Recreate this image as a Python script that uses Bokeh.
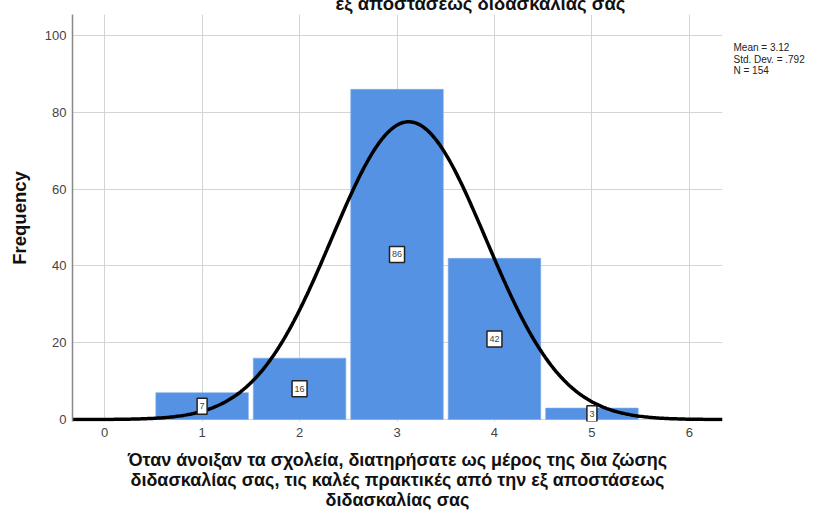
import numpy as np
from bokeh.plotting import figure
from bokeh.models import ColumnDataSource, Range1d, FixedTicker, LinearAxis
from bokeh.core.properties import value
from bokeh.embed import file_html
from bokeh.resources import INLINE

# Data
categories = [1, 2, 3, 4, 5]
frequencies = [7, 16, 86, 42, 3]
mean_val = 3.12
std_val = 0.792
n_total = 154
x_ticks = [0, 1, 2, 3, 4, 5, 6]
y_ticks = [0, 20, 40, 60, 80, 100]
stats_lines = ["Mean = 3.12", "Std. Dev. = .792", "N = 154"]
x_title_lines = ["Όταν άνοιξαν τα σχολεία, διατηρήσατε ως μέρος της δια ζώσης",
                 "διδασκαλίας σας, τις καλές πρακτικές από την εξ αποστάσεως",
                 "διδασκαλίας σας"]
top_title = "εξ αποστάσεως διδασκαλίας σας"

FONT = "Liberation Sans"
SHIFT = 14  # part of the canvas pushed above the window (clipped title)

X0, X1 = -0.33, 6.34
Y0, Y1 = -0.5, 105.5
p = figure(width=822, height=512 + SHIFT, output_backend="svg",
           toolbar_location=None,
           x_range=Range1d(X0, X1), y_range=Range1d(Y0, Y1),
           min_border_left=72, min_border_right=100,
           min_border_top=14 + SHIFT, min_border_bottom=91)
p.styles = {"margin-top": f"-{SHIFT}px"}
p.outline_line_color = None
p.background_fill_color = "white"

# clipped chart title (only its lower part shows, as in the original)
p.title.text = top_title
p.title.text_font = FONT
p.title.text_font_size = "18.5px"
p.title.text_font_style = "bold"
p.title.text_color = "#111111"
p.title.align = "left"
p.title.offset = 263
p.title.standoff = 2

# bars
labs = [str(f) for f in frequencies]
bar_src = ColumnDataSource(dict(x=categories, top=frequencies,
                                mid=[f / 2 for f in frequencies],
                                lab=labs,
                                bw=[5 + 5 * len(s) for s in labs]))
p.vbar(x="x", top="top", bottom=0, width=0.95, source=bar_src,
       fill_color="#5592E4", line_color="#7FAEEC", line_width=0.6)

# normal curve from the reported statistics
xs = np.linspace(X0, X1, 400)
ys = n_total / (std_val * np.sqrt(2 * np.pi)) * np.exp(-0.5 * ((xs - mean_val) / std_val) ** 2)
p.line(xs, ys, line_color="black", line_width=3.5)

# value labels (white boxes with dark border)
p.rect(x="x", y="mid", width="bw", height=16, width_units="screen",
       height_units="screen", source=bar_src, fill_color="white",
       line_color="#222222", line_width=1.5)
p.text(x="x", y="mid", text="lab", source=bar_src, text_align="center",
       text_baseline="middle", text_font=value(FONT), text_font_size="9px",
       text_color="#444444")

# grid
p.xgrid.ticker = FixedTicker(ticks=x_ticks)
p.ygrid.ticker = FixedTicker(ticks=y_ticks)
p.xgrid.grid_line_color = "#D4D4D4"
p.ygrid.grid_line_color = "#D4D4D4"

# axes
p.xaxis.ticker = FixedTicker(ticks=x_ticks)
p.yaxis.ticker = FixedTicker(ticks=y_ticks)
for ax in (p.xaxis[0], p.yaxis[0]):
    ax.major_tick_line_color = None
    ax.minor_tick_line_color = None
    ax.major_label_text_font = FONT
    ax.major_label_text_font_size = "13px"
    ax.major_label_text_color = "#444444"
    ax.axis_label_text_font = FONT
    ax.axis_label_text_font_style = "bold"
    ax.axis_label_text_color = "#111111"
p.xaxis.axis_line_color = None
p.yaxis.axis_line_color = "#888888"
p.yaxis.axis_line_width = 1.5
p.xaxis.major_tick_out = 0
p.yaxis.major_tick_out = 0
p.xaxis.major_label_standoff = 6
p.yaxis.major_label_standoff = 6
p.yaxis.axis_label = "Frequency"
p.yaxis.axis_label_text_font_size = "18.5px"
p.yaxis.axis_label_standoff = 12
p.xaxis.axis_label = "\n".join(x_title_lines)
p.xaxis.axis_label_text_font_size = "18px"
p.xaxis.axis_label_text_line_height = 1.0
p.xaxis.axis_label_standoff = 10

# statistics text to the right of the plot area; the label block is centred
# on the frame, so blank lines after it lift it to the top-right corner
stats_text = "\n".join(stats_lines) + "\n" * 27
stats_axis = LinearAxis(ticker=FixedTicker(ticks=[]), axis_line_color=None,
                        major_tick_out=0, major_tick_in=0, minor_tick_out=0,
                        minor_tick_in=0, major_label_standoff=0,
                        axis_label=stats_text,
                        axis_label_orientation="horizontal",
                        axis_label_standoff=11,
                        axis_label_text_font=FONT,
                        axis_label_text_font_size="10px",
                        axis_label_text_font_style="normal",
                        axis_label_text_color="#222222",
                        axis_label_text_line_height=1.07)
p.add_layout(stats_axis, "right")

open("out.html", "w").write(file_html(p, INLINE))
